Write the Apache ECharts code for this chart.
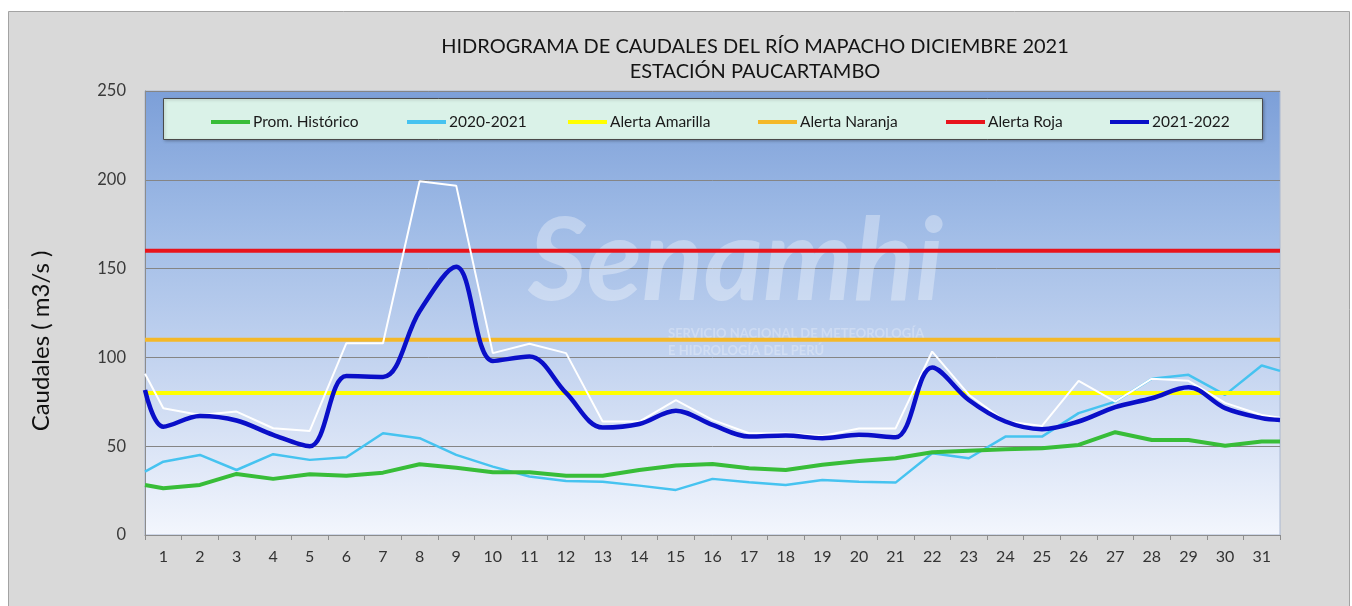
<!DOCTYPE html>
<html>
<head>
<meta charset="utf-8">
<script src="https://cdn.jsdelivr.net/npm/echarts@6/dist/echarts.min.js"></script>
<style>
html,body{margin:0;padding:0;background:#ffffff;}
#chart{width:1352px;height:606px;}
</style>
</head>
<body>
<div id="chart"></div>
<script>
// Tick labels (days of December)
const days = ['1','2','3','4','5','6','7','8','9','10','11','12','13','14','15','16','17','18','19','20','21','22','23','24','25','26','27','28','29','30','31'];

// Each series: first value = line end at left plot edge, then days 1..31, last value = line end at right plot edge
const promHistorico = [28.2, 26.3, 28.2, 34.4, 31.6, 34.2, 33.3, 35.1, 39.8, 37.9, 35.3, 35.3, 33.4, 33.4, 36.6, 39.1, 40.0, 37.6, 36.6, 39.5, 41.7, 43.2, 46.6, 47.5, 48.3, 48.8, 50.7, 57.9, 53.5, 53.5, 50.3, 52.6, 52.6];
const serie2020_2021 = [35.7, 41.3, 45.1, 36.6, 45.5, 42.3, 43.8, 57.3, 54.5, 45.1, 38.5, 32.9, 30.4, 30.0, 27.8, 25.4, 31.6, 29.7, 28.2, 31.0, 30.0, 29.5, 46.0, 43.2, 55.4, 55.4, 68.6, 75.1, 88.0, 90.2, 78.9, 95.4, 92.4];
const caudalMaximo = [90.8, 71.4, 67.6, 69.5, 60.1, 58.6, 108.0, 108.0, 199.2, 196.7, 102.4, 107.7, 102.4, 63.9, 63.9, 76.0, 64.8, 57.3, 57.3, 55.8, 60.0, 60.0, 103.3, 79.0, 64.0, 61.4, 86.8, 75.1, 88.0, 86.8, 74.4, 67.6, 66.0];
const serie2021_2022 = [81.6, 61.0, 67.0, 64.5, 56.4, 50.0, 89.5, 89.0, 126.0, 151.0, 98.0, 100.5, 80.0, 60.5, 62.5, 70.0, 62.0, 55.4, 56.0, 54.5, 56.4, 55.0, 94.3, 76.0, 63.9, 59.6, 63.9, 72.0, 77.0, 83.2, 71.4, 65.8, 64.8];

// Alert thresholds
const alertaAmarilla = 80;
const alertaNaranja = 110;
const alertaRoja = 160;

// Y-axis ticks
const yMin = 0, yMax = 250, yStep = 50;

const nDays = days.length;
function toXY(arr) {
  return arr.map(function (v, i) {
    let x;
    if (i === 0) x = 0;
    else if (i === arr.length - 1) x = nDays;
    else x = i - 0.5;
    return [x, v];
  });
}
function flat(v) { return [[0, v], [nDays, v]]; }

const FONT = 'Lato';
const chart = echarts.init(document.getElementById('chart'), null, {renderer: 'canvas'});

const legendNames = ['Prom. Histórico', '2020-2021', 'Alerta Amarilla', 'Alerta Naranja', 'Alerta Roja', '2021-2022'];
const legendLeft = [206, 402, 563, 753, 941, 1105];
const legends = legendNames.map(function (n, i) {
  return {
    data: [n], left: legendLeft[i], top: 109, orient: 'horizontal',
    icon: 'rect', itemWidth: 39, itemHeight: 4, itemGap: 0, z: 10,
    textStyle: {fontFamily: FONT, fontSize: 15.5, color: '#1a1a1a', padding: [0, 0, 0, -2]},
    selectedMode: false
  };
});

const option = {
  backgroundColor: '#ffffff',
  animation: false,
  title: {
    text: 'HIDROGRAMA DE CAUDALES DEL RÍO MAPACHO DICIEMBRE 2021\nESTACIÓN PAUCARTAMBO',
    left: 750, top: 29, textAlign: 'center',
    textStyle: {fontFamily: FONT, fontSize: 20, fontWeight: 'normal', color: '#141414', lineHeight: 25}
  },
  legend: legends,
  graphic: [
    {type: 'rect', z: -5, silent: true, shape: {x: 0, y: 0, width: 1352, height: 606}, style: {fill: '#ffffff'}},
    {type: 'rect', z: -4, silent: true, shape: {x: 8.5, y: 11.5, width: 1341, height: 600}, style: {fill: '#d9d9d9', stroke: '#a3a3a3', lineWidth: 1}},
    {type: 'text', z: 1, silent: true, left: 528, top: 206, style: {text: 'Senamhi', fontFamily: FONT, fontSize: 114, fontWeight: 'bold', fontStyle: 'italic', fill: 'rgba(255,255,255,0.33)'}},
    {type: 'text', z: 1, silent: true, left: 668, top: 325, style: {text: 'SERVICIO NACIONAL DE METEOROLOGÍA\nE HIDROLOGÍA DEL PERÚ', fontFamily: FONT, fontSize: 13, lineHeight: 17, fontWeight: 'bold', fill: 'rgba(255,255,255,0.28)'}},
    {type: 'rect', z: 5, silent: true, shape: {x: 163.5, y: 98.5, width: 1099, height: 41}, style: {fill: '#daf2e8', stroke: '#4a4a4a', lineWidth: 1, shadowColor: 'rgba(0,0,0,0.25)', shadowBlur: 3, shadowOffsetX: 1, shadowOffsetY: 1}},
    {type: 'text', z: 5, silent: true, x: 41, y: 341, rotation: Math.PI / 2,
      style: {text: 'Caudales ( m3/s )', fontFamily: FONT, fontSize: 24, fill: '#111111', align: 'center', verticalAlign: 'middle'}}
  ],
  grid: {
    left: 145, right: 72, top: 91, bottom: 71,
    show: true, borderColor: '#aab8d2', borderWidth: 1,
    backgroundColor: {
      type: 'linear', x: 0, y: 0, x2: 0, y2: 1,
      colorStops: [
        {offset: 0, color: '#7c9fd8'},
        {offset: 0.3, color: '#9fbbe6'},
        {offset: 0.65, color: '#c8d7f1'},
        {offset: 1, color: '#f3f6fd'}
      ]
    }
  },
  xAxis: [
    {
      type: 'value', min: 0, max: nDays, interval: 1,
      axisLine: {show: true, lineStyle: {color: '#8c8c8c', width: 1}},
      axisTick: {show: true, length: 5, lineStyle: {color: '#8c8c8c'}},
      axisLabel: {show: false},
      splitLine: {show: false}
    },
    {
      type: 'category', data: days, boundaryGap: true, position: 'bottom',
      axisLine: {show: false}, axisTick: {show: false}, splitLine: {show: false},
      axisLabel: {margin: 14, fontFamily: FONT, fontSize: 16, color: '#333333', interval: 0}
    }
  ],
  yAxis: {
    type: 'value', min: yMin, max: yMax, interval: yStep,
    axisLine: {show: true, lineStyle: {color: '#8c8c8c'}},
    axisTick: {show: false},
    axisLabel: {margin: 19, fontFamily: FONT, fontSize: 16.5, color: '#3a3a3a'},
    splitLine: {show: true, lineStyle: {color: '#858585', width: 1}}
  },
  series: [
    {name: '2020-2021', type: 'line', xAxisIndex: 0, data: toXY(serie2020_2021), showSymbol: false, z: 3,
      lineStyle: {color: '#46c3f0', width: 2.5}, itemStyle: {color: '#46c3f0'}},
    {name: 'Prom. Histórico', type: 'line', xAxisIndex: 0, data: toXY(promHistorico), showSymbol: false, z: 4,
      lineStyle: {color: '#38bd38', width: 4}, itemStyle: {color: '#38bd38'}},
    {name: 'Alerta Amarilla', type: 'line', xAxisIndex: 0, data: flat(alertaAmarilla), showSymbol: false, z: 5,
      lineStyle: {color: '#ffff00', width: 4}, itemStyle: {color: '#ffff00'}},
    {name: 'Alerta Naranja', type: 'line', xAxisIndex: 0, data: flat(alertaNaranja), showSymbol: false, z: 5,
      lineStyle: {color: '#f4b828', width: 4}, itemStyle: {color: '#f4b828'}},
    {name: 'Alerta Roja', type: 'line', xAxisIndex: 0, data: flat(alertaRoja), showSymbol: false, z: 5,
      lineStyle: {color: '#e8141c', width: 4}, itemStyle: {color: '#e8141c'}},
    {name: 'Caudal máximo', type: 'line', xAxisIndex: 0, data: toXY(caudalMaximo), showSymbol: false, z: 6,
      lineStyle: {color: '#ffffff', width: 2}, itemStyle: {color: '#ffffff'}},
    {name: '2021-2022', type: 'line', xAxisIndex: 0, data: toXY(serie2021_2022), showSymbol: false, z: 7, smooth: 0.35,
      lineStyle: {color: '#0a0fc8', width: 4.5}, itemStyle: {color: '#0a0fc8'}}
  ]
};
chart.setOption(option);
</script>
</body>
</html>
